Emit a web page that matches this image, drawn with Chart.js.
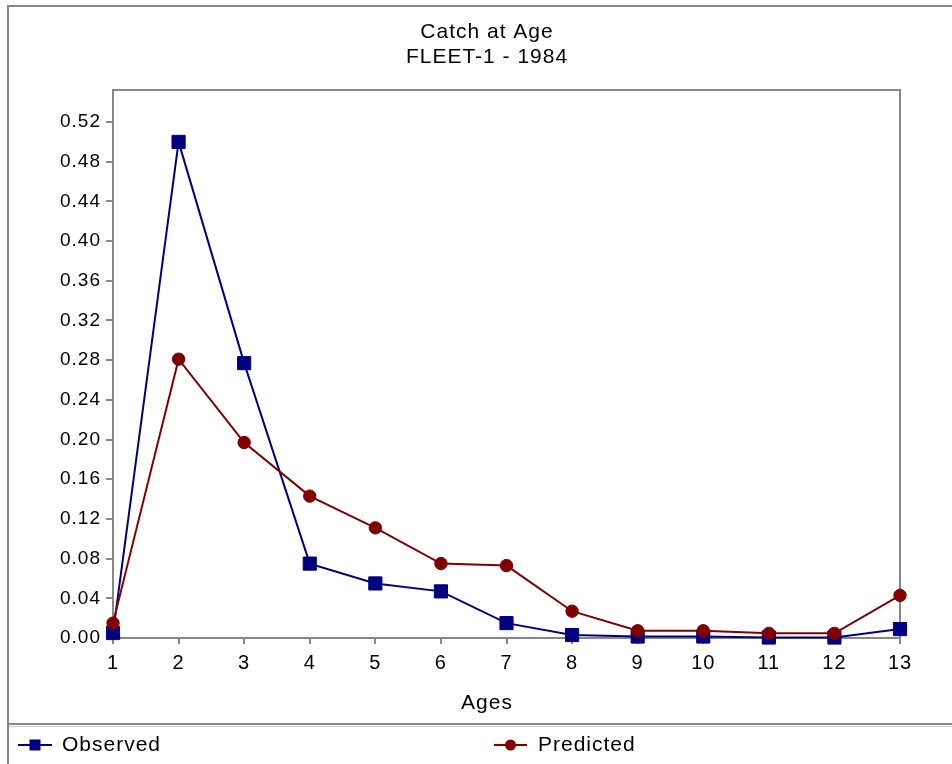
<!DOCTYPE html>
<html>
<head>
<meta charset="utf-8">
<title>Catch at Age</title>
<script src="https://cdn.jsdelivr.net/npm/chart.js@4.4.1/dist/chart.umd.min.js"></script>
<style>
  html, body { margin: 0; padding: 0; background: #ffffff; }
  #wrap { width: 952px; height: 764px; position: relative; }
  canvas { display: block; }
</style>
</head>
<body>
<div id="wrap"><canvas id="chart" width="952" height="764"></canvas></div>
<script>
// Catch-at-age proportions, fleet 1, year 1984
const titleLines = ['Catch at Age', 'FLEET-1 - 1984'];
const axisTitle = 'Ages';
const ages = ['1', '2', '3', '4', '5', '6', '7', '8', '9', '10', '11', '12', '13'];
const observed = [0.005, 0.500, 0.277, 0.075, 0.055, 0.047, 0.015, 0.003, 0.0015, 0.0015, 0.0005, 0.0005, 0.009];
const predicted = [0.015, 0.281, 0.197, 0.143, 0.111, 0.075, 0.073, 0.027, 0.0073, 0.0073, 0.0047, 0.0047, 0.043];
const yTickValues = [0.00, 0.04, 0.08, 0.12, 0.16, 0.20, 0.24, 0.28, 0.32, 0.36, 0.40, 0.44, 0.48, 0.52];

const FONT = '"Liberation Sans", Arial, sans-serif';
const FRAME = '#878787';
const SPACING = '1px';

// Page frame, plot box, titles and the legend strip
const framePlugin = {
  id: 'frame',
  beforeDraw(chart) {
    const ctx = chart.ctx;
    ctx.letterSpacing = SPACING;
    ctx.save();
    ctx.fillStyle = '#ffffff';
    ctx.fillRect(0, 0, chart.width, chart.height);
    ctx.strokeStyle = FRAME;
    ctx.lineWidth = 2;
    ctx.beginPath();
    ctx.moveTo(8, chart.height);
    ctx.lineTo(8, 6);
    ctx.lineTo(chart.width, 6);
    ctx.stroke();
    // separator above the legend
    ctx.beginPath();
    ctx.moveTo(8, 724);
    ctx.lineTo(chart.width, 724);
    ctx.stroke();
    ctx.strokeStyle = '#cfcfcf';
    ctx.lineWidth = 1;
    ctx.beginPath();
    ctx.moveTo(9, 726.5);
    ctx.lineTo(chart.width, 726.5);
    ctx.stroke();
    ctx.restore();
  },
  beforeDatasetsDraw(chart) {
    const ctx = chart.ctx;
    const a = chart.chartArea;
    ctx.save();
    ctx.strokeStyle = FRAME;
    ctx.lineWidth = 2;
    ctx.strokeRect(a.left, a.top, a.right - a.left, a.bottom - a.top);
    ctx.restore();
  },
  afterDraw(chart) {
    const ctx = chart.ctx;
    ctx.save();
    ctx.letterSpacing = SPACING;
    ctx.fillStyle = '#000000';
    ctx.textAlign = 'center';
    ctx.textBaseline = 'middle';
    ctx.font = '21px ' + FONT;
    titleLines.forEach((t, i) => ctx.fillText(t, 487, 32 + i * 25));
    ctx.fillText(axisTitle, 487, 703);

    // legend entries, styled from their datasets
    const entries = [
      { ds: chart.data.datasets[1], x0: 18, x1: 52, tx: 62 },
      { ds: chart.data.datasets[0], x0: 494, x1: 527, tx: 538 }
    ];
    const ly = 745;
    entries.forEach(e => {
      const ds = e.ds;
      const cx = (e.x0 + e.x1) / 2;
      ctx.strokeStyle = ds.borderColor;
      ctx.lineWidth = 2;
      ctx.beginPath();
      ctx.moveTo(e.x0, ly);
      ctx.lineTo(e.x1, ly);
      ctx.stroke();
      ctx.fillStyle = ds.pointBackgroundColor;
      if (ds.pointStyle === 'rect') {
        ctx.fillRect(cx - 5.5, ly - 5.5, 11, 11);
      } else {
        ctx.beginPath();
        ctx.arc(cx, ly, 5.5, 0, Math.PI * 2);
        ctx.fill();
      }
      ctx.fillStyle = '#000000';
      ctx.textAlign = 'left';
      ctx.fillText(ds.label, e.tx, ly);
    });
    ctx.restore();
  }
};

const axisGrid = {
  drawOnChartArea: false,
  drawTicks: true,
  color: FRAME,
  lineWidth: 2
};

new Chart(document.getElementById('chart'), {
  type: 'line',
  data: {
    labels: ages,
    datasets: [
      {
        label: 'Predicted',
        data: predicted,
        order: 1,
        borderColor: '#800000',
        backgroundColor: '#800000',
        pointBackgroundColor: '#800000',
        pointBorderColor: '#800000',
        borderWidth: 2,
        pointStyle: 'circle',
        pointRadius: 6.2,
        pointBorderWidth: 1,
        tension: 0,
        clip: false
      },
      {
        label: 'Observed',
        data: observed,
        order: 2,
        borderColor: '#000080',
        backgroundColor: '#000080',
        pointBackgroundColor: '#000080',
        pointBorderColor: '#000080',
        borderWidth: 2,
        pointStyle: 'rect',
        pointRadius: 9.3,
        pointBorderWidth: 1,
        tension: 0,
        clip: false
      }
    ]
  },
  options: {
    responsive: false,
    animation: false,
    devicePixelRatio: 1,
    layout: { padding: { left: 0, right: 52, top: 90, bottom: 76 } },
    plugins: {
      legend: { display: false },
      title: { display: false },
      tooltip: { enabled: false }
    },
    scales: {
      x: {
        type: 'category',
        offset: false,
        border: { display: false },
        grid: Object.assign({ tickLength: 6 }, axisGrid),
        ticks: {
          color: '#000000',
          font: { family: FONT, size: 20 },
          padding: 7,
          autoSkip: false,
          maxRotation: 0
        },
        afterFit(scale) { scale.height = 50; }
      },
      y: {
        min: 0,
        max: 0.5523,
        border: { display: false },
        grid: Object.assign({ tickLength: 7 }, axisGrid),
        ticks: {
          color: '#000000',
          font: { family: FONT, size: 19 },
          padding: 5,
          callback: v => Number(v).toFixed(2)
        },
        afterBuildTicks(scale) {
          scale.ticks = yTickValues.map(v => ({ value: v }));
        },
        afterFit(scale) { scale.width = 113; }
      }
    }
  },
  plugins: [framePlugin]
});
</script>
</body>
</html>
